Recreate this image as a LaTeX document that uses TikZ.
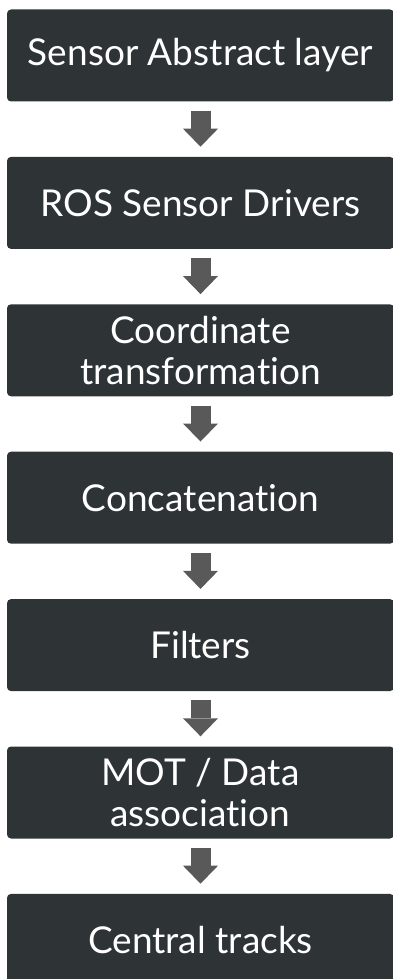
\documentclass[tikz,border=0pt]{standalone}
\usepackage{fontspec}
\setmainfont{Lato}[Ligatures=NoCommon]
\usetikzlibrary{arrows.meta, positioning}
\definecolor{boxgray}{HTML}{2E3336}
\definecolor{arrowgray}{HTML}{595959}

\begin{document}
\begin{tikzpicture}[x=1pt, y=1pt,
    stage/.style={fill=boxgray, rounded corners=4pt, minimum width=387pt, minimum height=92pt,
      align=center, text=white, inner sep=0pt,
      font=\fontsize{37}{41}\selectfont},
    flow/.style={arrowgray, line width=20pt,
      -{Triangle[length=18pt, width=35pt, line width=0pt]},
      shorten <=9pt, shorten >=10pt},
    node distance=55pt]
\useasboundingbox (0,0) rectangle (393,-979);

% Pipeline stages
\node[stage] (sal) at (200.5,-55.5) {Sensor Abstract layer};
\node[stage, below=of sal] (drv) {ROS Sensor Drivers};
\node[stage, below=of drv] (tf) {Coordinate\\transformation};
\node[stage, below=of tf] (cat) {Concatenation};
\node[stage, below=of cat] (filt) {Filters};
\node[stage, below=of filt] (mot) {MOT / Data\\association};
\node[stage, below=of mot] (trk) {Central tracks};

% Flow arrows
\foreach \a/\b in {sal/drv, drv/tf, tf/cat, cat/filt, filt/mot, mot/trk}
    \draw[flow] (\a) -- (\b);
\end{tikzpicture}
\end{document}
